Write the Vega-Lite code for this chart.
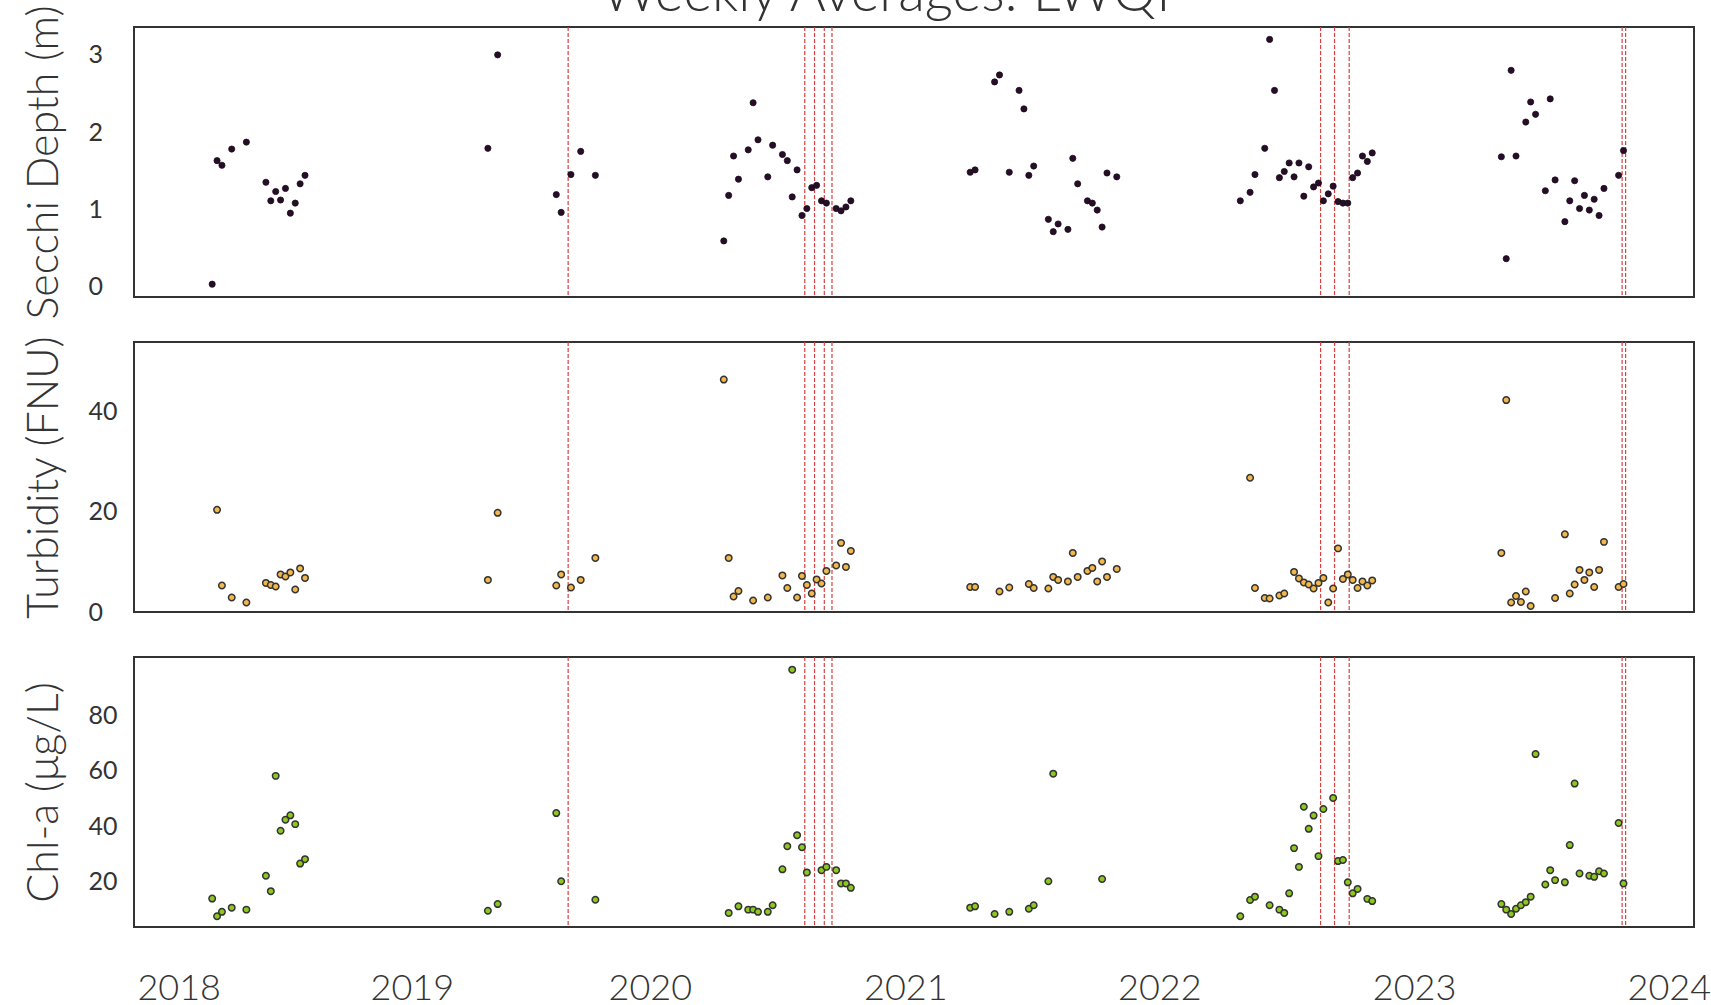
{
  "$schema": "https://vega.github.io/schema/vega-lite/v6.json",
  "padding": {"left": 21, "top": -33, "right": 0, "bottom": 0},
  "bounds": "flush",
  "spacing": 45,
  "title": {"text": "Weekly Averages: LWQP", "fontSize": 55, "font": "Lato", "fontWeight": 300, "color": "#333333", "anchor": "middle", "baseline": "alphabetic", "offset": -62, "dx": 28},
  "datasets": {
    "events": [
      {"date": "2019-09-07"}, {"date": "2020-08-11"}, {"date": "2020-08-25"}, {"date": "2020-09-08"}, {"date": "2020-09-19"},
      {"date": "2022-08-20"}, {"date": "2022-09-09"}, {"date": "2022-09-30"}, {"date": "2023-10-26"}, {"date": "2023-10-31"}
    ],
    "wq": [
      {"date": "2018-04-15", "secchi": 0.03, "chla": 13.7},
      {"date": "2018-04-22", "secchi": 1.63, "turbidity": 20.4, "chla": 7.3},
      {"date": "2018-04-29", "secchi": 1.57, "turbidity": 5.3, "chla": 8.9},
      {"date": "2018-05-13", "secchi": 1.78, "turbidity": 2.9, "chla": 10.4},
      {"date": "2018-06-03", "secchi": 1.87, "turbidity": 1.9, "chla": 9.7},
      {"date": "2018-07-01", "secchi": 1.35, "turbidity": 5.8, "chla": 22},
      {"date": "2018-07-08", "secchi": 1.11, "turbidity": 5.4, "chla": 16.4},
      {"date": "2018-07-15", "secchi": 1.23, "turbidity": 5.1, "chla": 58.2},
      {"date": "2018-07-22", "secchi": 1.12, "turbidity": 7.5, "chla": 38.3},
      {"date": "2018-07-29", "secchi": 1.27, "turbidity": 7.1, "chla": 42.3},
      {"date": "2018-08-05", "secchi": 0.95, "turbidity": 7.9, "chla": 43.9},
      {"date": "2018-08-12", "secchi": 1.08, "turbidity": 4.5, "chla": 40.7},
      {"date": "2018-08-19", "secchi": 1.33, "turbidity": 8.7, "chla": 26.4},
      {"date": "2018-08-26", "secchi": 1.44, "turbidity": 6.8, "chla": 28},
      {"date": "2019-05-15", "secchi": 1.79, "turbidity": 6.4, "chla": 9.3},
      {"date": "2019-05-29", "secchi": 3.0, "turbidity": 19.8, "chla": 11.7},
      {"date": "2019-08-21", "secchi": 1.19, "turbidity": 5.3, "chla": 44.7},
      {"date": "2019-08-28", "secchi": 0.96, "turbidity": 7.5, "chla": 20},
      {"date": "2019-09-11", "secchi": 1.45, "turbidity": 4.9},
      {"date": "2019-09-25", "secchi": 1.75, "turbidity": 6.4},
      {"date": "2019-10-16", "secchi": 1.44, "turbidity": 10.8, "chla": 13.3},
      {"date": "2020-04-17", "secchi": 0.59, "turbidity": 46.4},
      {"date": "2020-04-24", "secchi": 1.18, "turbidity": 10.8, "chla": 8.5},
      {"date": "2020-05-01", "secchi": 1.69, "turbidity": 3.1},
      {"date": "2020-05-08", "secchi": 1.39, "turbidity": 4.2, "chla": 10.9},
      {"date": "2020-05-22", "secchi": 1.77, "chla": 9.7},
      {"date": "2020-05-29", "secchi": 2.38, "turbidity": 2.3, "chla": 9.7},
      {"date": "2020-06-05", "secchi": 1.90, "chla": 8.9},
      {"date": "2020-06-19", "secchi": 1.42, "turbidity": 2.9, "chla": 8.9},
      {"date": "2020-06-26", "secchi": 1.83, "chla": 11.3},
      {"date": "2020-07-10", "secchi": 1.71, "turbidity": 7.3, "chla": 24.3},
      {"date": "2020-07-17", "secchi": 1.63, "turbidity": 4.8, "chla": 32.7},
      {"date": "2020-07-24", "secchi": 1.16, "chla": 96.7},
      {"date": "2020-07-31", "secchi": 1.51, "turbidity": 2.9, "chla": 36.7},
      {"date": "2020-08-07", "secchi": 0.92, "turbidity": 7.2, "chla": 32.3},
      {"date": "2020-08-14", "secchi": 1.01, "turbidity": 5.4, "chla": 23.2},
      {"date": "2020-08-21", "secchi": 1.28, "turbidity": 3.7},
      {"date": "2020-08-28", "secchi": 1.31, "turbidity": 6.5},
      {"date": "2020-09-04", "secchi": 1.11, "turbidity": 5.7, "chla": 24},
      {"date": "2020-09-11", "secchi": 1.08, "turbidity": 8.2, "chla": 25.2},
      {"date": "2020-09-25", "secchi": 1.01, "turbidity": 9.3, "chla": 24},
      {"date": "2020-10-02", "secchi": 0.98, "turbidity": 13.8, "chla": 19.2},
      {"date": "2020-10-09", "secchi": 1.03, "turbidity": 9.0, "chla": 19.2},
      {"date": "2020-10-16", "secchi": 1.11, "turbidity": 12.2, "chla": 17.6},
      {"date": "2021-04-05", "secchi": 1.48, "turbidity": 5.0, "chla": 10.4},
      {"date": "2021-04-12", "secchi": 1.51, "turbidity": 5.0, "chla": 10.9},
      {"date": "2021-05-10", "secchi": 2.65, "chla": 8.1},
      {"date": "2021-05-17", "secchi": 2.74, "turbidity": 4.1},
      {"date": "2021-05-31", "secchi": 1.48, "turbidity": 4.9, "chla": 8.9},
      {"date": "2021-06-14", "secchi": 2.54},
      {"date": "2021-06-21", "secchi": 2.30},
      {"date": "2021-06-28", "secchi": 1.44, "turbidity": 5.6, "chla": 10},
      {"date": "2021-07-05", "secchi": 1.56, "turbidity": 4.8, "chla": 11.3},
      {"date": "2021-07-26", "secchi": 0.87, "turbidity": 4.7, "chla": 20},
      {"date": "2021-08-02", "secchi": 0.71, "turbidity": 7.0, "chla": 59},
      {"date": "2021-08-09", "secchi": 0.81, "turbidity": 6.4},
      {"date": "2021-08-23", "secchi": 0.74, "turbidity": 6.1},
      {"date": "2021-08-30", "secchi": 1.66, "turbidity": 11.8},
      {"date": "2021-09-06", "secchi": 1.33, "turbidity": 7.0},
      {"date": "2021-09-20", "secchi": 1.11, "turbidity": 8.2},
      {"date": "2021-09-27", "secchi": 1.08, "turbidity": 8.8},
      {"date": "2021-10-04", "secchi": 0.99, "turbidity": 6.1},
      {"date": "2021-10-11", "secchi": 0.77, "turbidity": 10.1, "chla": 20.8},
      {"date": "2021-10-18", "secchi": 1.47, "turbidity": 7.0},
      {"date": "2021-11-01", "secchi": 1.42, "turbidity": 8.6},
      {"date": "2022-04-27", "secchi": 1.11, "chla": 7.3},
      {"date": "2022-05-11", "secchi": 1.22, "turbidity": 26.8, "chla": 13.2},
      {"date": "2022-05-18", "secchi": 1.45, "turbidity": 4.8, "chla": 14.4},
      {"date": "2022-06-01", "secchi": 1.79, "turbidity": 2.8},
      {"date": "2022-06-08", "secchi": 3.20, "turbidity": 2.7, "chla": 11.3},
      {"date": "2022-06-15", "secchi": 2.54},
      {"date": "2022-06-22", "secchi": 1.41, "turbidity": 3.3, "chla": 9.7},
      {"date": "2022-06-29", "secchi": 1.49, "turbidity": 3.7, "chla": 8.5},
      {"date": "2022-07-06", "secchi": 1.60, "chla": 15.6},
      {"date": "2022-07-13", "secchi": 1.42, "turbidity": 8.0, "chla": 32},
      {"date": "2022-07-20", "secchi": 1.60, "turbidity": 6.7, "chla": 25.2},
      {"date": "2022-07-27", "secchi": 1.17, "turbidity": 5.9, "chla": 47},
      {"date": "2022-08-03", "secchi": 1.55, "turbidity": 5.5, "chla": 39},
      {"date": "2022-08-10", "secchi": 1.29, "turbidity": 4.7, "chla": 43.8},
      {"date": "2022-08-17", "secchi": 1.34, "turbidity": 5.8, "chla": 29.1},
      {"date": "2022-08-24", "secchi": 1.11, "turbidity": 6.8, "chla": 46.2},
      {"date": "2022-08-31", "secchi": 1.20, "turbidity": 1.9},
      {"date": "2022-09-07", "secchi": 1.30, "turbidity": 4.7, "chla": 50.2},
      {"date": "2022-09-14", "secchi": 1.10, "turbidity": 12.7, "chla": 27.3},
      {"date": "2022-09-21", "secchi": 1.08, "turbidity": 6.6, "chla": 27.7},
      {"date": "2022-09-28", "secchi": 1.08, "turbidity": 7.5, "chla": 19.6},
      {"date": "2022-10-05", "secchi": 1.41, "turbidity": 6.4, "chla": 15.6},
      {"date": "2022-10-12", "secchi": 1.47, "turbidity": 4.8, "chla": 17.2},
      {"date": "2022-10-19", "secchi": 1.69, "turbidity": 6.1},
      {"date": "2022-10-26", "secchi": 1.62, "turbidity": 5.3, "chla": 13.6},
      {"date": "2022-11-02", "secchi": 1.73, "turbidity": 6.3, "chla": 12.8},
      {"date": "2023-05-06", "secchi": 1.68, "turbidity": 11.8, "chla": 11.7},
      {"date": "2023-05-13", "secchi": 0.36, "turbidity": 42.3, "chla": 9.7},
      {"date": "2023-05-20", "secchi": 2.80, "turbidity": 1.9, "chla": 8.1},
      {"date": "2023-05-27", "secchi": 1.69, "turbidity": 3.2, "chla": 10},
      {"date": "2023-06-03", "turbidity": 2.0, "chla": 11.3},
      {"date": "2023-06-10", "secchi": 2.13, "turbidity": 4.1, "chla": 12.4},
      {"date": "2023-06-17", "secchi": 2.39, "turbidity": 1.2, "chla": 14.4},
      {"date": "2023-06-24", "secchi": 2.23, "chla": 66.1},
      {"date": "2023-07-08", "secchi": 1.24, "chla": 18.8},
      {"date": "2023-07-15", "secchi": 2.43, "chla": 24},
      {"date": "2023-07-22", "secchi": 1.38, "turbidity": 2.8, "chla": 20.4},
      {"date": "2023-08-05", "secchi": 0.84, "turbidity": 15.5, "chla": 19.6},
      {"date": "2023-08-12", "secchi": 1.11, "turbidity": 3.7, "chla": 33.1},
      {"date": "2023-08-19", "secchi": 1.37, "turbidity": 5.5, "chla": 55.4},
      {"date": "2023-08-26", "secchi": 1.01, "turbidity": 8.4, "chla": 22.8},
      {"date": "2023-09-02", "secchi": 1.18, "turbidity": 6.4},
      {"date": "2023-09-09", "secchi": 0.99, "turbidity": 7.9, "chla": 22},
      {"date": "2023-09-16", "secchi": 1.13, "turbidity": 5.0, "chla": 21.6},
      {"date": "2023-09-23", "secchi": 0.92, "turbidity": 8.4, "chla": 23.6},
      {"date": "2023-09-30", "secchi": 1.27, "turbidity": 14.0, "chla": 22.8},
      {"date": "2023-10-21", "secchi": 1.44, "turbidity": 5.0, "chla": 41.1},
      {"date": "2023-10-28", "secchi": 1.76, "turbidity": 5.6, "chla": 19.2}
    ]
  },
  "vconcat": [
    {
      "width": 1560, "height": 270,
      "layer": [
        {"data": {"name": "events"}, "mark": {"type": "rule", "color": "#d94040", "strokeDash": [4, 2], "strokeWidth": 1.2},
         "encoding": {"x": {"field": "date", "type": "temporal", "scale": {"domain": [{"year": 2017, "month": 12, "date": 24}, {"year": 2024, "month": 2, "date": 6}]}, "axis": null}}},
        {"data": {"name": "wq"}, "transform": [{"filter": "isValid(datum.secchi)"}],
         "mark": {"type": "point", "filled": true, "size": 38, "color": "#2a0b2c", "stroke": "#111111", "strokeWidth": 0.8, "opacity": 1},
         "encoding": {
           "x": {"field": "date", "type": "temporal", "axis": null},
           "y": {"field": "secchi", "type": "quantitative", "scale": {"domain": [-0.136, 3.361], "nice": false, "zero": false}, "axis": {"values": [0, 1, 2, 3], "title": "Secchi Depth (m)"}}
         }}
      ]
    },
    {
      "width": 1560, "height": 270,
      "layer": [
        {"data": {"name": "events"}, "mark": {"type": "rule", "color": "#d94040", "strokeDash": [4, 2], "strokeWidth": 1.2},
         "encoding": {"x": {"field": "date", "type": "temporal", "scale": {"domain": [{"year": 2017, "month": 12, "date": 24}, {"year": 2024, "month": 2, "date": 6}]}, "axis": null}}},
        {"data": {"name": "wq"}, "transform": [{"filter": "isValid(datum.turbidity)"}],
         "mark": {"type": "point", "filled": true, "size": 42, "color": "#f2b84b", "stroke": "#333333", "strokeWidth": 1.5, "opacity": 1},
         "encoding": {
           "x": {"field": "date", "type": "temporal", "axis": null},
           "y": {"field": "turbidity", "type": "quantitative", "scale": {"domain": [0, 53.9], "nice": false, "zero": false}, "axis": {"values": [0, 20, 40], "title": "Turbidity (FNU)"}}
         }}
      ]
    },
    {
      "width": 1560, "height": 270,
      "layer": [
        {"data": {"name": "events"}, "mark": {"type": "rule", "color": "#d94040", "strokeDash": [4, 2], "strokeWidth": 1.2},
         "encoding": {"x": {"field": "date", "type": "temporal", "scale": {"domain": [{"year": 2017, "month": 12, "date": 24}, {"year": 2024, "month": 2, "date": 6}]},
           "axis": {"values": [{"year": 2018, "month": 2, "date": 26}, {"year": 2019, "month": 1, "date": 26}, {"year": 2020, "month": 1, "date": 2}, {"year": 2021, "month": 1, "date": 2}, {"year": 2022, "month": 1, "date": 1}, {"year": 2023, "month": 1, "date": 1}, {"year": 2024, "month": 1, "date": 1}], "format": "%Y", "title": null}}}},
        {"data": {"name": "wq"}, "transform": [{"filter": "isValid(datum.chla)"}],
         "mark": {"type": "point", "filled": true, "size": 42, "color": "#8cc81e", "stroke": "#333333", "strokeWidth": 1.5, "opacity": 1},
         "encoding": {
           "x": {"field": "date", "type": "temporal"},
           "y": {"field": "chla", "type": "quantitative", "scale": {"domain": [3.4, 101.3], "nice": false, "zero": false}, "axis": {"values": [20, 40, 60, 80], "title": "Chl-a (μg/L)"}}
         }}
      ]
    }
  ],
  "config": {
    "font": "Lato",
    "view": {"stroke": "#333333", "strokeWidth": 2},
    "axis": {"grid": false, "ticks": false, "tickSize": 0, "domain": false, "labelColor": "#333333", "titleColor": "#333333", "labelFont": "Lato", "titleFont": "Lato", "titleFontWeight": 300, "labelFontWeight": "normal"},
    "axisY": {"labelFontSize": 25, "labelAlign": "left", "labelPadding": 46, "titleFontSize": 43, "titleAngle": 270, "titleX": -77, "titleY": 135, "titleAlign": "center", "titleBaseline": "alphabetic"},
    "axisX": {"labelFontSize": 36, "labelPadding": 72, "labelBaseline": "alphabetic", "labelFlush": false, "labelOverlap": false, "labelBound": false, "labelFontWeight": 300}
  }
}
